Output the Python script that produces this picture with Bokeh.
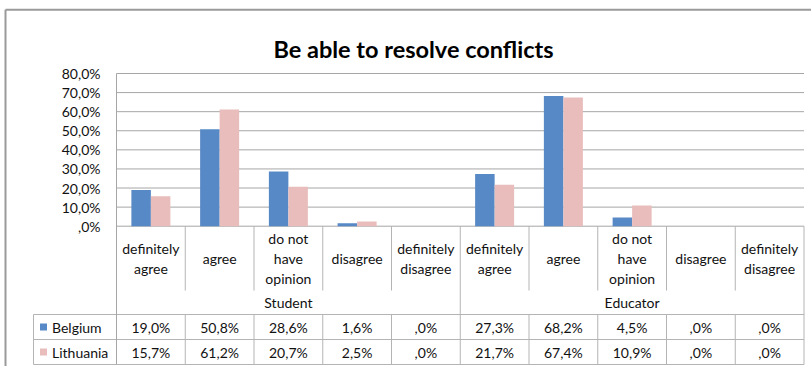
from bokeh.plotting import figure
from bokeh.models import Range1d, FixedTicker, CustomJSTickFormatter, ColumnDataSource
from bokeh.transform import dodge
from bokeh.core.properties import value
from bokeh.embed import file_html
from bokeh.resources import INLINE

# ---------------- data ----------------
title = "Be able to resolve conflicts"
groups = ["Student", "Educator"]
answers = ["definitely\nagree", "agree", "do not\nhave\nopinion", "disagree", "definitely\ndisagree"]
series = ["Belgium", "Lithuania"]
belgium = [19.0, 50.8, 28.6, 1.6, 0.0, 27.3, 68.2, 4.5, 0.0, 0.0]
lithuania = [15.7, 61.2, 20.7, 2.5, 0.0, 21.7, 67.4, 10.9, 0.0, 0.0]
y_ticks = [0, 10, 20, 30, 40, 50, 60, 70, 80]

# ---------------- style / layout (page pixels) ----------------
colors = ["#5689C6", "#E8BDBC"]
FONT = "Lato"
GRID = "#A6A6A6"
TBL = "#B4B4B4"
TXT = "#111111"

W, H = 811, 366
FL, FT = 116, 73                 # plot area left / top (80 %)
TR = 803.5                       # plot/table right edge
ZERO = 225.7                     # 0 % line
KY = (ZERO - FT) / 80.0
NCAT = len(groups) * len(answers)
CW = (TR - FL) / NCAT


def X(px):
    return (px - FL) / CW


def Y(py):
    return 80 - (py - FT) / KY


p = figure(width=W, height=H, output_backend="svg", toolbar_location=None,
           x_range=Range1d(X(0), X(W)), y_range=Range1d(Y(H), Y(0)),
           x_axis_location=None,
           min_border_left=0, min_border_right=0, min_border_top=0, min_border_bottom=0,
           outline_line_color=None, background_fill_color="white",
           border_fill_color="white")
p.xgrid.visible = False
p.ygrid.visible = False

ticker = FixedTicker(ticks=y_ticks)
ax = p.yaxis[0]
ax.fixed_location = 0
ax.bounds = (Y(364), 80)
ax.ticker = ticker
ax.formatter = CustomJSTickFormatter(
    code="return tick == 0 ? ',0%' : tick.toFixed(1).replace('.', ',') + '%';")
ax.axis_line_color = GRID
ax.major_tick_line_color = None
ax.minor_tick_line_color = None
ax.major_tick_out = 0
ax.major_tick_in = 0
ax.major_label_standoff = 16
ax.major_label_text_font = FONT
ax.major_label_text_font_size = "14px"
ax.major_label_text_color = TXT

# horizontal gridlines of the plot area
p.segment(x0=0, x1=NCAT, y0=y_ticks, y1=y_ticks, line_color=GRID, line_width=1)

# ---------------- bars ----------------
cats = [a for g in groups for a in answers]
fmt = lambda v: ",0%" if v == 0 else f"{v:.1f}".replace(".", ",") + "%"
src = ColumnDataSource(dict(
    idx=[i + 0.5 for i in range(NCAT)],
    cat=cats,
    belgium=belgium, lithuania=lithuania,
    bel_txt=[fmt(v) for v in belgium],
    lit_txt=[fmt(v) for v in lithuania],
))
BW = 19.5 / CW
p.vbar(x=dodge("idx", -BW / 2, range=p.x_range), top="belgium", width=BW,
       fill_color=colors[0], line_color=None, source=src)
p.vbar(x=dodge("idx", BW / 2, range=p.x_range), top="lithuania", width=BW,
       fill_color=colors[1], line_color=None, source=src)

# ---------------- data table ----------------
ROW_CAT_B, ROW_GRP_B, ROW1_B, ROW2_B = 290, 314, 339, 364
LX0 = 33
rows = ((ROW_GRP_B, ROW1_B), (ROW1_B, ROW2_B))
txt_kw = dict(text_font=value(FONT), text_font_size="14px", text_color=TXT,
              text_align="center", text_baseline="middle")

p.text(x="idx", y=Y(258), text="cat", text_line_height=1.2, source=src, **txt_kw)
p.text(x=[len(answers) * (g + 0.5) for g in range(len(groups))], y=[Y(302)] * len(groups),
       text=groups, **txt_kw)
p.text(x="idx", y=Y(sum(rows[0]) / 2), text="bel_txt", source=src, **txt_kw)
p.text(x="idx", y=Y(sum(rows[1]) / 2), text="lit_txt", source=src, **txt_kw)

x0s, y0s, x1s, y1s = [], [], [], []
for yb in (ROW_GRP_B, ROW1_B, ROW2_B):
    x0s.append(X(LX0)); x1s.append(NCAT); y0s.append(Y(yb)); y1s.append(Y(yb))
x0s.append(X(LX0)); x1s.append(X(LX0)); y0s.append(Y(ROW_GRP_B)); y1s.append(Y(ROW2_B))
for k in range(1, NCAT + 1):
    if k % len(answers) == 0:
        x0s.append(k); x1s.append(k); y0s.append(Y(ZERO)); y1s.append(Y(ROW2_B))
    else:
        x0s.append(k); x1s.append(k); y0s.append(Y(ZERO)); y1s.append(Y(ROW_CAT_B))
        x0s.append(k); x1s.append(k); y0s.append(Y(ROW_GRP_B)); y1s.append(Y(ROW2_B))
p.segment(x0=x0s, y0=y0s, x1=x1s, y1=y1s, line_color=TBL, line_width=1)

# legend keys in the table's first column
yc = [Y((a + b) / 2) for a, b in rows]
p.rect(x=[X(43)] * len(series), y=yc, width=7 / CW, height=7 / KY,
       fill_color=colors, line_color=None)
p.text(x=[X(51.5)] * len(series), y=yc, text=series,
       **{**txt_kw, "text_align": "left"})

# title
p.text(x=[X(413)], y=[Y(48.3)], text=[title], text_font=value(FONT),
       text_font_style="bold", text_font_size="23.5px", text_color="#000000",
       text_align="center", text_baseline="alphabetic")

# outer chart border
p.segment(x0=[X(5), X(5)], y0=[Y(9.3), Y(9.3)], x1=[X(5), X(W + 10)], y1=[Y(H + 10), Y(9.3)],
          line_color="#9A9A9A", line_width=2)

open("out.html", "w").write(file_html(p, INLINE))
